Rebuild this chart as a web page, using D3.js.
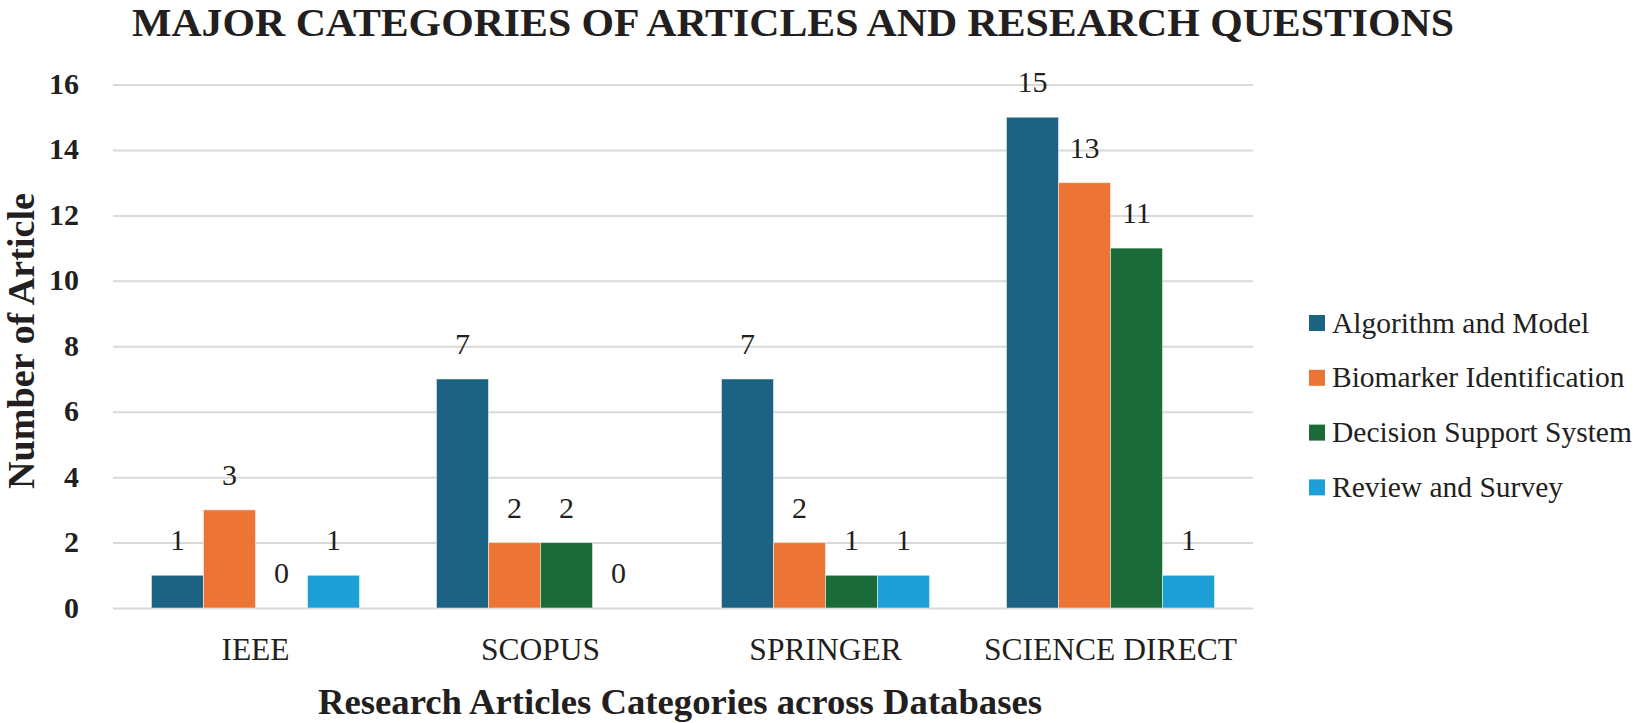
<!DOCTYPE html>
<html>
<head>
<meta charset="utf-8">
<script src="https://cdn.jsdelivr.net/npm/d3@7"></script>
<style>
  html, body { margin: 0; padding: 0; background: #ffffff; }
  svg { display: block; }
  text { font-family: "Liberation Serif", "Times New Roman", Tinos, serif; fill: #231f20; }
</style>
</head>
<body>
<svg id="chart" width="1633" height="723"></svg>
<script>
const categories = ["IEEE", "SCOPUS", "SPRINGER", "SCIENCE DIRECT"];
const seriesNames = ["Algorithm and Model", "Biomarker Identification", "Decision Support System", "Review and Survey"];
const algorithmAndModel = [1, 7, 7, 15];
const biomarkerIdentification = [3, 2, 2, 13];
const decisionSupportSystem = [0, 2, 1, 11];
const reviewAndSurvey = [1, 0, 1, 1];
const yTicks = [0, 2, 4, 6, 8, 10, 12, 14, 16];
const colors = ["#1b6283", "#ec7434", "#1a6b37", "#1da0d7"];
const titleText = "MAJOR CATEGORIES OF ARTICLES AND RESEARCH QUESTIONS";
const xTitle = "Research Articles Categories across Databases";
const yTitle = "Number of Article";

const seriesValues = [algorithmAndModel, biomarkerIdentification, decisionSupportSystem, reviewAndSurvey];
const FONT = "'Liberation Serif', 'Times New Roman', Tinos, serif";

const svg = d3.select("#chart");

const x0 = d3.scaleBand().domain(categories).range([113, 1253]).paddingInner(0.27).paddingOuter(0.135);
const x1 = d3.scaleBand().domain(seriesNames).range([0, x0.bandwidth()]);
const y = d3.scaleLinear().domain([0, 16]).range([608, 84.5]);

// gridlines + y tick labels
const yAxis = d3.axisLeft(y).tickValues(yTicks).tickSize(-(1253 - 113)).tickPadding(34).tickFormat(d3.format("d"));
const gy = svg.append("g").attr("transform", "translate(113,0)").call(yAxis);
gy.attr("font-family", FONT);
gy.select(".domain").remove();
gy.selectAll(".tick line").attr("stroke", "#d9d9d9").attr("stroke-width", 2);
gy.selectAll(".tick text")
  .attr("font-size", 30).attr("font-weight", "bold")
  .attr("font-family", FONT)
  .attr("fill", "#231f20").attr("dy", null).attr("y", 9).attr("x", -34);

// bars
const groups = svg.append("g").selectAll("g")
  .data(categories)
  .join("g")
  .attr("transform", d => `translate(${x0(d)},0)`);

groups.selectAll("rect")
  .data((c, ci) => seriesNames.map((s, si) => ({ s, si, v: seriesValues[si][ci] })))
  .join("rect")
  .attr("x", d => x1(d.s))
  .attr("width", x1.bandwidth())
  .attr("y", d => y(d.v))
  .attr("height", d => y(0) - y(d.v))
  .attr("fill", d => colors[d.si])
  .attr("stroke", d => d.v > 0 ? "rgba(255,255,255,0.5)" : "none")
  .attr("stroke-width", 1);

groups.selectAll("text.val")
  .data((c, ci) => seriesNames.map((s, si) => ({ s, si, v: seriesValues[si][ci] })))
  .join("text")
  .attr("class", "val")
  .attr("x", d => x1(d.s) + x1.bandwidth() / 2)
  .attr("y", d => y(d.v) - 25)
  .attr("text-anchor", "middle")
  .attr("font-family", FONT)
  .attr("font-size", 30)
  .text(d => d.v);

// x axis labels
const xAxis = d3.axisBottom(x0).tickSize(0).tickPadding(0);
const gx = svg.append("g").attr("transform", "translate(0,608)").call(xAxis);
gx.attr("font-family", FONT);
gx.select(".domain").remove();
gx.selectAll(".tick text")
  .attr("font-size", 31.5)
  .attr("font-family", FONT)
  .attr("fill", "#231f20").attr("dy", null).attr("y", 52);

// title
svg.append("text").attr("x", 793).attr("y", 36).attr("text-anchor", "middle")
  .attr("font-family", FONT)
  .attr("font-size", 40).attr("font-weight", "bold")
  .attr("textLength", 1322).attr("lengthAdjust", "spacingAndGlyphs")
  .text(titleText);

// axis titles
svg.append("text").attr("x", 680).attr("y", 714).attr("text-anchor", "middle")
  .attr("font-family", FONT)
  .attr("font-size", 36.7).attr("font-weight", "bold").text(xTitle);
svg.append("text").attr("transform", "translate(34,341) rotate(-90)").attr("text-anchor", "middle")
  .attr("font-family", FONT)
  .attr("font-size", 37).attr("font-weight", "bold")
  .attr("textLength", 296).attr("lengthAdjust", "spacingAndGlyphs")
  .text(yTitle);

// legend
const legend = svg.append("g").selectAll("g")
  .data(seriesNames)
  .join("g")
  .attr("transform", (d, i) => `translate(1309,${323 + i * 54.8})`);
legend.append("rect").attr("x", 0).attr("y", -8).attr("width", 16).attr("height", 16)
  .attr("fill", (d, i) => colors[i]);
legend.append("text").attr("x", 23).attr("y", 9.5)
  .attr("font-family", FONT)
  .attr("font-size", 29.5).text(d => d);
</script>
</body>
</html>
